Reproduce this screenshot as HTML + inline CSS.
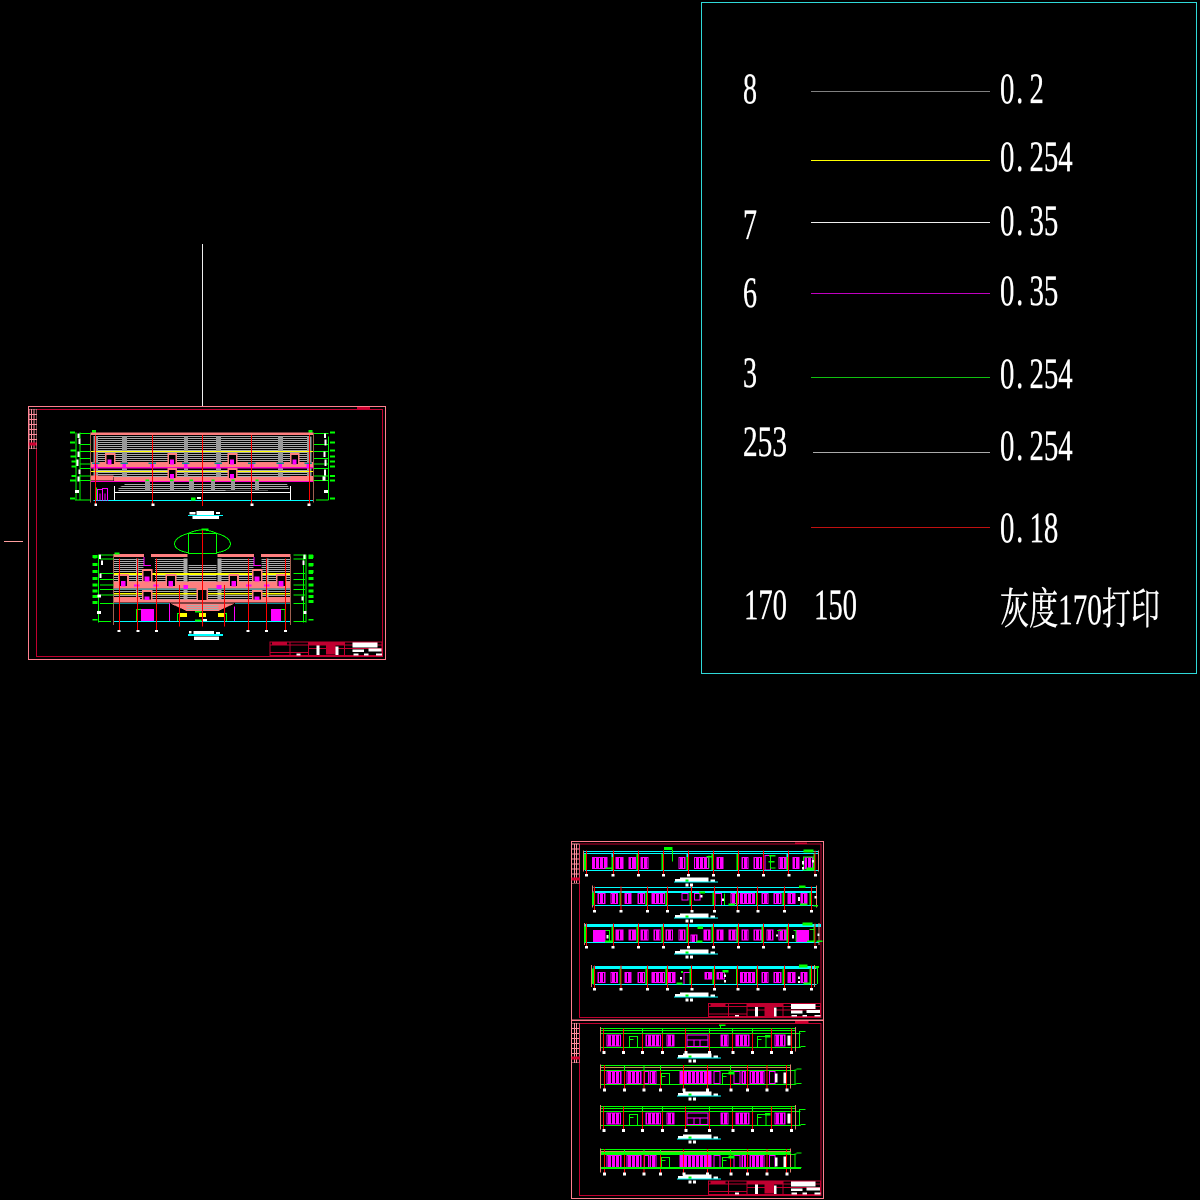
<!DOCTYPE html>
<html><head><meta charset="utf-8"><style>
html,body{margin:0;padding:0;background:#000}
svg{display:block}
text{font-family:"Liberation Serif","Noto Serif CJK SC",serif;fill:#fff;stroke:#fff;stroke-width:.35px;font-size:43px}
.z{shape-rendering:crispEdges}
</style></head><body>
<svg width="1200" height="1200" viewBox="0 0 1200 1200" xmlns="http://www.w3.org/2000/svg">
<defs>
<pattern id="h" width="6" height="6" patternUnits="userSpaceOnUse"><rect width="6" height="3" fill="#aaa"/></pattern>
<pattern id="w" width="12" height="30" patternUnits="userSpaceOnUse"><rect width="12" height="30" fill="#f0f"/><rect x="6" width="3" height="30" fill="#000"/></pattern>
<g id="strip"><rect x="0" y="0" width="23" height="118" fill="#000" stroke="#ff8f9f" stroke-width="2"/>
<path d="M8 0V118M15 0V118M0 15H23M0 30H23M0 45H23M0 60H23M0 75H23M0 90H23" stroke="#ff8f9f" stroke-width="3" fill="none"/>
<rect x="0" y="100" width="23" height="9" fill="#d00030"/></g>
<g id="tb" fill="none" stroke="#c00030" stroke-width="3">
<rect x="430" y="505" width="336" height="40"/><path d="M430 514H766M490 505V545M546 505V545M430 537H546M654 505V545M546 525H766"/>
<rect x="438" y="506" width="42" height="6" fill="#c00030"/>
<rect x="548" y="506" width="105" height="8" fill="#c00030"/><rect x="600" y="516" width="25" height="25" fill="#c00030"/>
<rect x="570" y="516" width="9" height="28" fill="#fff" stroke="none"/><rect x="627" y="518" width="8" height="26" fill="#fff" stroke="none"/>
<rect x="678" y="507" width="74" height="15" fill="#fff" stroke="none"/><rect x="678" y="527" width="34" height="8" fill="#fff" stroke="none"/>
<rect x="725" y="525" width="40" height="9" fill="#fff" stroke="none"/><rect x="680" y="540" width="16" height="5" fill="#fff" stroke="none"/><rect x="712" y="540" width="14" height="5" fill="#fff" stroke="none"/><rect x="748" y="540" width="18" height="5" fill="#fff" stroke="none"/><rect x="510" y="540" width="12" height="5" fill="#fff" stroke="none"/>
</g>
<g id="ttl"><rect x="345" y="-12" width="85" height="12" fill="#fff"/><rect x="330" y="-8" width="32" height="7" fill="#fff"/><rect x="437" y="-7" width="13" height="6" fill="#fff"/>
<rect x="327" y="0" width="132" height="3" fill="#0ff"/><rect x="362" y="6" width="9" height="9" fill="#fff"/><rect x="375" y="6" width="9" height="9" fill="#fff"/><rect x="362" y="-6" width="9" height="6" fill="#0f0"/></g>
</defs>
<rect width="1200" height="1200" fill="#000"/>

<!-- legend -->
<g class="z">
<rect x="701.5" y="2.5" width="495" height="671" fill="none" stroke="#2fd8d8"/>
<path d="M811 91.5H990" stroke="#808080"/><path d="M811 160.5H990" stroke="#ff0"/><path d="M811 222.5H990" stroke="#eee"/>
<path d="M811 293.5H990" stroke="#c000c0"/><path d="M811 377.5H990" stroke="#10c010"/><path d="M813 452.5H990" stroke="#aaa"/><path d="M811 527.5H990" stroke="#c01010"/>
<path d="M202.5 244V406" stroke="#eee"/><path d="M4 541.5H23" stroke="#ff9f9f"/>
</g>
<text x="743" y="103" textLength="14" lengthAdjust="spacingAndGlyphs">8</text>
<text x="743" y="239" textLength="14" lengthAdjust="spacingAndGlyphs">7</text>
<text x="743" y="307" textLength="14" lengthAdjust="spacingAndGlyphs">6</text>
<text x="743" y="387" textLength="14" lengthAdjust="spacingAndGlyphs">3</text>
<text x="743" y="456" textLength="44" lengthAdjust="spacingAndGlyphs">253</text>
<text x="744" y="619" textLength="43" lengthAdjust="spacingAndGlyphs">170</text>
<text x="814" y="619" textLength="43" lengthAdjust="spacingAndGlyphs">150</text>
<g>
<text transform="translate(1000,103) scale(.67,1)" x="0 24 44">0.2</text>
<text transform="translate(1000,171) scale(.67,1)" x="0 24 44 65.5 87">0.254</text>
<text transform="translate(1000,235) scale(.67,1)" x="0 24 44 65.5">0.35</text>
<text transform="translate(1000,305) scale(.67,1)" x="0 24 44 65.5">0.35</text>
<text transform="translate(1000,388) scale(.67,1)" x="0 24 44 65.5 87">0.254</text>
<text transform="translate(1000,460) scale(.67,1)" x="0 24 44 65.5 87">0.254</text>
<text transform="translate(1000,542) scale(.67,1)" x="0 24 44 65.5">0.18</text>
</g>
<text x="1000" y="624" textLength="160" lengthAdjust="spacingAndGlyphs">灰度170打印</text>

<!-- drawing 1 frame + upper elevation -->
<g transform="translate(20,400) scale(.33333)" class="z">
<rect x="25" y="19" width="1071" height="759" fill="none" stroke="#ff7f8f" stroke-width="3"/>
<rect x="49" y="28" width="1039" height="741" fill="none" stroke="#c00030" stroke-width="3"/>
<use href="#strip" x="27" y="28"/>
<rect x="1011" y="21" width="39" height="7" fill="#d00030"/>
<rect x="220" y="108" width="650" height="48" fill="url(#h)"/><rect x="220" y="207" width="650" height="24" fill="url(#h)"/>
<rect x="220" y="156" width="650" height="30" fill="url(#h)"/>
<rect x="306" y="110" width="15" height="120" fill="#999"/><rect x="492" y="110" width="12" height="120" fill="#999"/><rect x="588" y="110" width="15" height="120" fill="#999"/><rect x="774" y="110" width="15" height="120" fill="#999"/><rect x="220" y="110" width="14" height="120" fill="#999"/><rect x="861" y="110" width="14" height="120" fill="#999"/>
<rect x="212" y="153" width="668" height="3" fill="#ff0"/><rect x="212" y="213" width="668" height="3" fill="#ff0"/>
<rect x="210" y="98" width="670" height="7" fill="#ff7f7f"/>
<rect x="212" y="186" width="668" height="15" fill="#ff7f7f"/><rect x="212" y="201" width="668" height="4" fill="#f0c"/>
<rect x="282" y="231" width="600" height="12" fill="#ff7f7f"/><rect x="210" y="226" width="70" height="15" fill="#ff7f7f"/><rect x="812" y="228" width="70" height="14" fill="#ff7f7f"/>
<rect x="212" y="243" width="668" height="3" fill="#f0c"/>
<g fill="#000" stroke="#ff7f7f" stroke-width="5"><rect x="257" y="162" width="27" height="33"/><rect x="445" y="162" width="24" height="33"/><rect x="625" y="162" width="25" height="33"/><rect x="812" y="162" width="24" height="33"/><rect x="445" y="207" width="24" height="30"/><rect x="625" y="207" width="25" height="30"/></g>
<g fill="#f0f"><rect x="262" y="178" width="12" height="16"/><rect x="450" y="178" width="12" height="16"/><rect x="630" y="178" width="12" height="16"/><rect x="817" y="178" width="12" height="16"/><rect x="450" y="222" width="12" height="14"/><rect x="630" y="222" width="12" height="14"/><rect x="222" y="190" width="10" height="14"/><rect x="308" y="190" width="10" height="14"/><rect x="392" y="190" width="10" height="14"/><rect x="492" y="190" width="10" height="14"/><rect x="590" y="190" width="10" height="14"/><rect x="690" y="190" width="10" height="14"/><rect x="776" y="190" width="10" height="14"/><rect x="860" y="190" width="10" height="14"/></g>
<g fill="#0a8a90"><rect x="216" y="187" width="22" height="5"/><rect x="302" y="187" width="22" height="5"/><rect x="386" y="187" width="22" height="5"/><rect x="486" y="187" width="22" height="5"/><rect x="584" y="187" width="22" height="5"/><rect x="684" y="187" width="22" height="5"/><rect x="770" y="187" width="22" height="5"/><rect x="854" y="187" width="22" height="5"/></g>
<g fill="url(#h)"><polygon points="295,264 320,250 800,250 810,270 295,276"/></g>
<g fill="#999"><rect x="375" y="242" width="15" height="30"/><rect x="450" y="242" width="12" height="30"/><rect x="507" y="242" width="15" height="30"/><rect x="573" y="242" width="12" height="30"/><rect x="633" y="242" width="12" height="30"/><rect x="705" y="242" width="12" height="30"/></g>
<g fill="#0f0"><rect x="377" y="238" width="10" height="5"/><rect x="450" y="238" width="10" height="5"/><rect x="509" y="238" width="10" height="5"/><rect x="574" y="238" width="10" height="5"/><rect x="634" y="238" width="10" height="5"/><rect x="706" y="238" width="10" height="5"/></g>
<path d="M283 258V300M812 258V300" stroke="#fff" stroke-width="3"/><rect x="283" y="276" width="530" height="3" fill="#fff"/>
<rect x="220" y="300" width="660" height="3" fill="#0ff"/>
<g stroke="#f00" stroke-width="3"><path d="M226 105V315M397 105V315M547 105V318M694 105V315M868 105V315"/></g>
<path d="M211 98V308M880 98V308" stroke="#a06050" stroke-width="3"/>
<g fill="none" stroke="#f0f" stroke-width="3"><path d="M233 303V268H247M247 303V265H263V303M240 280V303M255 280V303"/></g>
<path d="M230 262V300" stroke="#0f0" stroke-width="3"/>
<!-- green sides -->
<g stroke="#0f0" stroke-width="3" fill="none">
<path d="M168 98V300M180 98V300M925 110V300"/>
<path d="M180 101H212M180 133H212M180 155H212M180 175H212M180 192H212M180 205H212M180 228H212M180 242H212M165 300H212M882 101H925M882 133H925M882 155H925M882 175H925M882 192H925M882 205H925M882 228H925M882 242H925M888 300H925"/>
<path stroke-width="6" d="M150 98H165M150 128H165M152 152H168M152 170H168M155 185H168M155 200H168M155 228H168M150 242H168M150 295H165M930 98H945M930 128H945M930 152H945M930 170H945M930 185H945M930 200H945M930 228H945M930 242H945M930 295H945"/>
</g>
<g fill="#fff"><rect x="172" y="100" width="6" height="14"/><rect x="176" y="116" width="6" height="16"/><rect x="172" y="155" width="6" height="16"/><rect x="170" y="178" width="6" height="20"/><rect x="176" y="208" width="6" height="14"/><rect x="172" y="230" width="6" height="14"/><rect x="165" y="270" width="12" height="9"/><rect x="912" y="100" width="6" height="14"/><rect x="914" y="118" width="6" height="18"/><rect x="910" y="155" width="6" height="16"/><rect x="914" y="178" width="6" height="20"/><rect x="912" y="208" width="6" height="18"/><rect x="908" y="230" width="8" height="12"/><rect x="912" y="270" width="12" height="9"/></g>
<rect x="216" y="90" width="12" height="8" fill="#0f0"/><rect x="866" y="90" width="12" height="8" fill="#0f0"/>
<g fill="#fff"><rect x="223" y="310" width="8" height="8"/><rect x="395" y="310" width="8" height="8"/><rect x="692" y="310" width="8" height="8"/><rect x="863" y="310" width="8" height="8"/><rect x="531" y="291" width="12" height="6"/></g>
<rect x="513" y="293" width="14" height="8" fill="#0f0"/>
<g fill="#fff"><rect x="530" y="333" width="52" height="12"/><rect x="588" y="336" width="12" height="6"/><rect x="508" y="336" width="18" height="8"/><rect x="517" y="348" width="80" height="9"/></g>
<rect x="504" y="345" width="105" height="3" fill="#0ff"/><rect x="545" y="385" width="20" height="5" fill="#0f0"/>
</g>

<!-- drawing 1 lower elevation -->
<g transform="translate(20,525) scale(.33333)" class="z">
<path d="M505 25H590V85H505Z" fill="none" stroke="#0f0" stroke-width="3"/>
<path d="M505 25C450 40 450 75 505 83M590 25C645 40 645 75 590 83M505 25Q547 5 590 25" fill="none" stroke="#0f0" stroke-width="3"/>
<rect x="282" y="100" width="88" height="70" fill="url(#h)"/><rect x="405" y="100" width="85" height="70" fill="url(#h)"/><rect x="605" y="100" width="95" height="70" fill="url(#h)"/><rect x="725" y="100" width="87" height="70" fill="url(#h)"/><rect x="505" y="118" width="85" height="52" fill="url(#h)"/>
<rect x="282" y="192" width="528" height="34" fill="url(#h)"/>
<rect x="490" y="100" width="13" height="125" fill="#aaa"/><rect x="592" y="100" width="13" height="125" fill="#aaa"/>
<rect x="348" y="100" width="7" height="125" fill="#aaa"/><rect x="738" y="100" width="7" height="125" fill="#aaa"/>
<g fill="#ff7f7f"><rect x="280" y="87" width="92" height="9"/><rect x="393" y="87" width="110" height="9"/><rect x="592" y="87" width="110" height="9"/><rect x="723" y="87" width="88" height="9"/><rect x="280" y="170" width="532" height="20"/><rect x="280" y="216" width="80" height="8"/><rect x="725" y="216" width="88" height="8"/><rect x="280" y="224" width="532" height="9"/><polygon points="450,235 645,235 595,258 500,258"/></g>
<rect x="280" y="144" width="532" height="6" fill="#ff0"/><rect x="280" y="204" width="532" height="4" fill="#ff0"/>
<rect x="280" y="234" width="170" height="3" fill="#0a8a90"/><rect x="645" y="234" width="167" height="3" fill="#0a8a90"/><rect x="280" y="190" width="532" height="3" fill="#0a8a90"/>
<rect x="500" y="240" width="95" height="18" fill="url(#h)"/>
<g fill="#000" stroke="#ff7f7f" stroke-width="5"><rect x="297" y="150" width="27" height="36"/><rect x="439" y="150" width="28" height="36"/><rect x="628" y="150" width="26" height="36"/><rect x="770" y="150" width="27" height="36"/><rect x="368" y="135" width="27" height="35"/><rect x="698" y="135" width="27" height="35"/><rect x="368" y="198" width="27" height="28"/><rect x="698" y="198" width="27" height="28"/><rect x="532" y="192" width="30" height="36"/></g>
<g fill="#f0f"><rect x="303" y="168" width="14" height="17"/><rect x="445" y="168" width="14" height="17"/><rect x="634" y="168" width="14" height="17"/><rect x="776" y="168" width="14" height="17"/><rect x="373" y="155" width="15" height="14"/><rect x="703" y="155" width="15" height="14"/><rect x="373" y="215" width="15" height="10"/><rect x="703" y="215" width="15" height="10"/><rect x="342" y="178" width="16" height="6"/><rect x="400" y="178" width="16" height="6"/><rect x="490" y="180" width="14" height="12"/><rect x="590" y="180" width="14" height="12"/><rect x="678" y="178" width="16" height="6"/><rect x="732" y="178" width="16" height="6"/></g>
<path d="M372 96V122H393M702 96V122H723" fill="none" stroke="#f0f" stroke-width="3"/>
<rect x="363" y="252" width="39" height="38" fill="#f0f"/><rect x="753" y="252" width="30" height="38" fill="#f0f"/>
<path d="M448 236V288M644 244V288" stroke="#f0f" stroke-width="3"/>
<path d="M349 290V254H363M795 290V254H783M472 290V266H480M620 290V266H612" fill="none" stroke="#0f0" stroke-width="3"/>
<g fill="#ff0"><rect x="478" y="264" width="23" height="12"/><rect x="537" y="264" width="21" height="12"/><rect x="594" y="264" width="18" height="12"/></g>
<rect x="280" y="288" width="532" height="3" fill="#0ff"/>
<rect x="525" y="258" width="20" height="4" fill="#0f0"/><rect x="525" y="284" width="20" height="5" fill="#0f0"/><rect x="549" y="282" width="12" height="6" fill="#fff"/>
<g stroke="#f00" stroke-width="3"><path d="M298 100V315M352 100V315M409 100V315M478 180V305M547 15V305M613 180V305M685 100V315M739 100V315M796 100V315"/></g>
<path d="M280 95V300M811 95V300" stroke="#a06050" stroke-width="3"/>
<g stroke="#0f0" stroke-width="3" fill="none"><path d="M235 88V292M858 88V292M851 88V292"/>
<path d="M240 90H280M240 102H280M240 146H280M240 163H280M240 180H280M240 193H280M240 210H280M240 235H280M235 290H273M820 90H855M820 102H855M820 146H855M820 163H855M820 180H855M820 193H855M820 210H855M820 235H855M820 290H860"/>
<path stroke-width="9" d="M218 95H232M218 118H232M218 140H232M218 160H232M218 180H232M218 198H232M218 215H232M218 232H232M866 95H880M866 118H880M866 140H880M866 160H880M866 180H880M866 198H880M866 215H880M866 230H880"/></g>
<g fill="#0f0"><rect x="866" y="88" width="13" height="14"/><rect x="866" y="114" width="13" height="10"/><rect x="866" y="135" width="13" height="12"/><rect x="283" y="82" width="16" height="6"/><rect x="220" y="90" width="10" height="10"/><rect x="218" y="282" width="14" height="4"/><rect x="866" y="282" width="14" height="4"/></g>
<g fill="#fff"><rect x="237" y="88" width="6" height="14"/><rect x="243" y="106" width="6" height="14"/><rect x="238" y="145" width="6" height="14"/><rect x="233" y="208" width="10" height="10"/><rect x="231" y="258" width="12" height="9"/><rect x="850" y="88" width="6" height="14"/><rect x="848" y="106" width="6" height="14"/><rect x="845" y="215" width="6" height="12"/><rect x="850" y="258" width="10" height="9"/><rect x="292" y="315" width="9" height="6"/><rect x="349" y="315" width="9" height="6"/><rect x="405" y="315" width="9" height="6"/><rect x="680" y="315" width="9" height="6"/><rect x="735" y="315" width="9" height="6"/><rect x="792" y="315" width="9" height="6"/><rect x="520" y="318" width="62" height="10"/><rect x="588" y="321" width="12" height="6"/><rect x="507" y="318" width="8" height="8"/><rect x="522" y="335" width="75" height="10"/></g>
<rect x="504" y="327" width="105" height="6" fill="#0ff"/>
<use href="#tb" x="320" y="-154"/>
</g>

<!-- sheet 2: upper -->
<g transform="translate(565,835) scale(.33333)" class="z">
<rect x="19" y="19" width="757" height="536" fill="none" stroke="#ff7f8f" stroke-width="3"/>
<rect x="43" y="27" width="725" height="521" fill="none" stroke="#c00030" stroke-width="3"/>
<use href="#strip" x="20" y="27"/><rect x="690" y="22" width="36" height="5" fill="#d00030"/>
<!-- row 1 -->
<g fill="url(#w)" stroke="#f0f" stroke-width="3"><rect x="82" y="67" width="44" height="33"/><rect x="153" y="67" width="21" height="33"/><rect x="192" y="67" width="20" height="33"/><rect x="228" y="67" width="21" height="33"/><rect x="342" y="67" width="18" height="33"/><rect x="388" y="67" width="42" height="33"/><rect x="456" y="67" width="18" height="33"/><rect x="531" y="67" width="18" height="33"/><rect x="567" y="67" width="22" height="33"/><rect x="642" y="67" width="22" height="33"/><rect x="684" y="67" width="18" height="33"/><rect x="720" y="67" width="22" height="33"/></g>
<path d="M600 62H617V105H600Z" fill="none" stroke="#f0f" stroke-width="3"/>
<rect x="55" y="48" width="705" height="3" fill="#0ff"/><rect x="55" y="54" width="705" height="3" fill="#0ff"/><rect x="60" y="105" width="700" height="3" fill="#0ff"/>
<path d="M55 46V110M761 46V110" stroke="#e08070" stroke-width="3"/>
<g stroke="#0f0" stroke-width="6"><path d="M60 57V105M142 57V105M218 57V105M293 57V105M368 57V105M443 57V105M518 57V105M668 57V105M748 57V105"/></g>
<g stroke="#0ff" stroke-width="6"><path d="M142 54V66M368 54V66M668 54V66"/></g>
<g stroke="#f00" stroke-width="3"><path d="M65 46V118M145 46V118M220 46V118M295 46V118M370 46V118M445 46V118M520 46V118M595 46V118M670 46V118M750 46V118"/></g>
<g fill="#fff"><rect x="60" y="117" width="9" height="8"/><rect x="140" y="117" width="9" height="8"/><rect x="216" y="117" width="9" height="8"/><rect x="291" y="117" width="9" height="8"/><rect x="366" y="117" width="9" height="8"/><rect x="441" y="117" width="9" height="8"/><rect x="516" y="117" width="9" height="8"/><rect x="591" y="117" width="9" height="8"/><rect x="668" y="117" width="9" height="8"/><rect x="747" y="117" width="9" height="8"/></g>
<rect x="297" y="36" width="26" height="9" fill="#0f0"/><path d="M322 45V80M432 62V100M617 62V100" stroke="#0f0" stroke-width="3"/>
<g fill="#0f0"><rect x="424" y="63" width="20" height="5"/><rect x="612" y="60" width="20" height="4"/><rect x="610" y="78" width="18" height="4"/><rect x="616" y="97" width="16" height="4"/><rect x="122" y="97" width="18" height="5"/><rect x="716" y="44" width="30" height="8"/><rect x="725" y="97" width="20" height="8"/></g>
<path d="M715 66H745V105H715Z" fill="none" stroke="#0f0" stroke-width="3"/>
<rect x="711" y="78" width="6" height="10" fill="#fff"/><rect x="711" y="96" width="6" height="8" fill="#fff"/><rect x="741" y="75" width="6" height="8" fill="#fff"/>
<use href="#ttl" y="140"/>
<!-- row 2 -->
<g fill="url(#w)" stroke="#f0f" stroke-width="3"><rect x="99" y="175" width="21" height="30"/><rect x="138" y="175" width="19" height="30"/><rect x="180" y="175" width="18" height="30"/><rect x="219" y="175" width="19" height="30"/><rect x="261" y="175" width="37" height="30"/><rect x="498" y="175" width="22" height="30"/><rect x="527" y="175" width="41" height="30"/><rect x="591" y="175" width="18" height="30"/><rect x="627" y="175" width="21" height="30"/><rect x="669" y="175" width="21" height="30"/><rect x="708" y="175" width="18" height="30"/></g>
<g fill="none" stroke="#f0f" stroke-width="3"><rect x="351" y="175" width="18" height="20"/><rect x="388" y="175" width="17" height="20"/><rect x="450" y="175" width="20" height="36"/></g>
<rect x="85" y="156" width="670" height="3" fill="#0ff"/><rect x="85" y="168" width="670" height="6" fill="#0ff"/><rect x="85" y="210" width="670" height="3" fill="#0ff"/>
<path d="M82 152V218M755 152V218" stroke="#e08070" stroke-width="3"/>
<g stroke="#0f0" stroke-width="6"><path d="M84 172V210M166 172V210M245 172V210M304 172V210M376 172V210M445 172V210M516 172V210M576 172V210M656 172V210M737 172V210"/></g><path d="M478 175V210" stroke="#0f0" stroke-width="3"/>
<g stroke="#f00" stroke-width="3"><path d="M88 155V226M168 155V226M247 155V226M307 155V226M380 155V226M448 155V226M518 155V226M578 155V226M658 155V226M740 155V226"/></g>
<g fill="#fff"><rect x="84" y="225" width="9" height="8"/><rect x="164" y="225" width="9" height="8"/><rect x="243" y="225" width="9" height="8"/><rect x="303" y="225" width="9" height="8"/><rect x="376" y="225" width="9" height="8"/><rect x="444" y="225" width="9" height="8"/><rect x="514" y="225" width="9" height="8"/><rect x="574" y="225" width="9" height="8"/><rect x="654" y="225" width="9" height="8"/><rect x="735" y="225" width="9" height="8"/></g>
<g fill="#0f0"><rect x="402" y="170" width="18" height="5"/><rect x="490" y="206" width="20" height="5"/><rect x="702" y="152" width="20" height="7"/><rect x="705" y="205" width="22" height="6"/><rect x="745" y="210" width="14" height="5"/></g>
<rect x="699" y="186" width="6" height="12" fill="#fff"/><rect x="471" y="190" width="6" height="8" fill="#fff"/><rect x="407" y="180" width="6" height="8" fill="#fff"/><rect x="749" y="183" width="6" height="8" fill="#fff"/>
<use href="#ttl" y="248"/>
<!-- row 3 -->
<rect x="84" y="285" width="38" height="38" fill="#f0f"/><rect x="693" y="285" width="39" height="38" fill="#f0f"/>
<g fill="url(#w)" stroke="#f0f" stroke-width="3"><rect x="153" y="285" width="21" height="30"/><rect x="192" y="285" width="20" height="30"/><rect x="228" y="285" width="21" height="30"/><rect x="267" y="285" width="18" height="30"/><rect x="303" y="285" width="20" height="30"/><rect x="342" y="285" width="18" height="30"/><rect x="378" y="300" width="18" height="22"/><rect x="417" y="285" width="18" height="30"/><rect x="456" y="285" width="18" height="30"/><rect x="492" y="285" width="21" height="30"/><rect x="531" y="285" width="18" height="30"/><rect x="567" y="285" width="22" height="30"/><rect x="606" y="285" width="18" height="30"/><rect x="642" y="285" width="22" height="30"/></g>
<rect x="58" y="267" width="710" height="9" fill="#0ff"/><rect x="60" y="321" width="700" height="3" fill="#0ff"/>
<path d="M58 264V330M762 264V330" stroke="#e08070" stroke-width="3"/>
<g stroke="#0f0" stroke-width="6"><path d="M60 275V322M142 275V322M218 275V322M293 275V322M368 275V322M443 275V322M518 275V322M593 275V322M668 275V322M748 275V322"/></g>
<path d="M122 286H134V320M636 286H650M686 286H693V320M733 283H750" fill="none" stroke="#0f0" stroke-width="3"/>
<g stroke="#f00" stroke-width="3"><path d="M65 265V334M145 265V334M220 265V334M295 265V334M370 265V334M445 265V334M520 265V334M595 265V334M670 265V334M750 265V334"/></g>
<g fill="#fff"><rect x="60" y="333" width="9" height="8"/><rect x="140" y="333" width="9" height="8"/><rect x="216" y="333" width="9" height="8"/><rect x="291" y="333" width="9" height="8"/><rect x="366" y="333" width="9" height="8"/><rect x="441" y="333" width="9" height="8"/><rect x="516" y="333" width="9" height="8"/><rect x="591" y="333" width="9" height="8"/><rect x="668" y="333" width="9" height="8"/><rect x="747" y="333" width="9" height="8"/><rect x="125" y="300" width="6" height="10"/><rect x="633" y="298" width="6" height="6"/><rect x="681" y="300" width="6" height="10"/><rect x="758" y="295" width="6" height="8"/></g>
<g fill="#0f0"><rect x="398" y="275" width="16" height="7"/><rect x="395" y="316" width="18" height="6"/><rect x="120" y="317" width="20" height="6"/><rect x="712" y="262" width="30" height="9"/><rect x="726" y="316" width="22" height="5"/><rect x="755" y="316" width="18" height="5"/></g>
<use href="#ttl" y="356"/>
<!-- row 4 -->
<g fill="url(#w)" stroke="#f0f" stroke-width="3"><rect x="99" y="412" width="21" height="30"/><rect x="138" y="412" width="19" height="30"/><rect x="180" y="412" width="18" height="30"/><rect x="219" y="412" width="19" height="30"/><rect x="261" y="412" width="37" height="30"/><rect x="308" y="412" width="22" height="30"/><rect x="420" y="412" width="20" height="20"/><rect x="456" y="412" width="22" height="20"/><rect x="527" y="412" width="41" height="30"/><rect x="591" y="412" width="18" height="30"/><rect x="627" y="412" width="21" height="30"/><rect x="669" y="412" width="21" height="30"/><rect x="708" y="412" width="18" height="30"/></g>
<rect x="357" y="412" width="21" height="36" fill="none" stroke="#f0f" stroke-width="3"/>
<rect x="85" y="393" width="670" height="9" fill="#0ff"/><rect x="85" y="447" width="670" height="3" fill="#0ff"/>
<path d="M80 390V456M748 390V456" stroke="#e08070" stroke-width="3"/>
<g stroke="#0f0" stroke-width="6"><path d="M84 400V447M166 400V447M245 400V447M304 400V447M376 400V447M445 400V447M516 400V447M576 400V447M656 400V447M737 400V447"/></g><path d="M757 395V447" stroke="#0f0" stroke-width="3"/>
<g stroke="#f00" stroke-width="3"><path d="M88 392V460M168 392V460M247 392V460M307 392V460M380 392V460M448 392V460M518 392V460M578 392V460M658 392V460M740 392V460"/></g>
<g fill="#fff"><rect x="84" y="459" width="9" height="8"/><rect x="164" y="459" width="9" height="8"/><rect x="243" y="459" width="9" height="8"/><rect x="303" y="459" width="9" height="8"/><rect x="376" y="459" width="9" height="8"/><rect x="444" y="459" width="9" height="8"/><rect x="514" y="459" width="9" height="8"/><rect x="574" y="459" width="9" height="8"/><rect x="654" y="459" width="9" height="8"/><rect x="735" y="459" width="9" height="8"/><rect x="477" y="418" width="6" height="8"/><rect x="477" y="435" width="6" height="8"/><rect x="699" y="424" width="6" height="8"/><rect x="699" y="438" width="6" height="6"/><rect x="345" y="426" width="6" height="8"/></g>
<g fill="#0f0"><rect x="702" y="388" width="26" height="9"/><rect x="715" y="443" width="18" height="6"/><rect x="472" y="405" width="18" height="7"/><rect x="335" y="443" width="18" height="6"/><rect x="348" y="408" width="6" height="6"/><rect x="750" y="393" width="12" height="6"/></g>
<use href="#ttl" y="485"/>
<use href="#tb"/>
</g>

<!-- sheet 2: lower -->
<g transform="translate(565,1015) scale(.33333)" class="z">
<rect x="19" y="16" width="757" height="534" fill="none" stroke="#ff7f8f" stroke-width="3"/>
<rect x="43" y="25" width="725" height="517" fill="none" stroke="#c00030" stroke-width="3"/>
<use href="#strip" x="20" y="25"/><rect x="690" y="18" width="40" height="7" fill="#d00030"/>
<g id="r1">
<g fill="url(#w)" stroke="#f0f" stroke-width="3"><rect x="126" y="60" width="40" height="33"/><rect x="243" y="60" width="43" height="33"/><rect x="306" y="60" width="21" height="33"/><rect x="468" y="60" width="21" height="33"/><rect x="513" y="60" width="39" height="33"/><rect x="630" y="60" width="30" height="33"/></g>
<g fill="none" stroke="#f0f" stroke-width="3"><rect x="366" y="60" width="63" height="35"/><path d="M366 75H429M387 75V95M405 75V95"/></g>
<path d="M193 96V65H217V96M577 96V65H603V96M193 74H205M577 74H590" fill="none" stroke="#0f0" stroke-width="3"/>
<rect x="107" y="39" width="585" height="3" fill="#0f0"/><rect x="107" y="45" width="585" height="3" fill="#0f0"/><rect x="107" y="54" width="600" height="3" fill="#0f0"/><rect x="107" y="96" width="600" height="3" fill="#0f0"/>
<path d="M106 36V110M691 36V110" stroke="#e08070" stroke-width="3"/>
<g stroke="#0f0" stroke-width="3"><path d="M115 39V55M175 39V55M232 39V97M292 39V97M362 39V97M433 39V97M503 39V97M562 39V55M620 39V97M680 39V97"/></g>
<g stroke="#f00" stroke-width="3"><path d="M115 40V108M175 40V108M232 55V108M292 55V108M362 40V108M433 55V108M503 55V108M562 55V108M620 40V108M680 40V108"/></g>
<g fill="#fff"><rect x="112" y="108" width="9" height="9"/><rect x="171" y="108" width="9" height="9"/><rect x="228" y="108" width="9" height="9"/><rect x="288" y="108" width="9" height="9"/><rect x="358" y="108" width="9" height="9"/><rect x="429" y="108" width="9" height="9"/><rect x="499" y="108" width="9" height="9"/><rect x="558" y="108" width="9" height="9"/><rect x="615" y="108" width="9" height="9"/><rect x="675" y="108" width="9" height="9"/><rect x="668" y="62" width="8" height="30"/></g>
<path d="M708 50H703V96H708M708 50H722M708 94H722" fill="none" stroke="#0f0" stroke-width="3"/>
<rect x="600" y="60" width="16" height="8" fill="#0f0"/>
</g>
<rect x="462" y="29" width="20" height="4" fill="#0f0"/><path d="M466 30V40" stroke="#0f0" stroke-width="3"/>
<use href="#ttl" x="9" y="128"/>
<use href="#r1" y="234"/>
<g id="r2">
<g fill="url(#w)" stroke="#f0f" stroke-width="3"><rect x="126" y="170" width="42" height="35"/><rect x="186" y="170" width="42" height="35"/><rect x="255" y="170" width="18" height="35"/><rect x="345" y="170" width="93" height="35"/><rect x="531" y="170" width="10" height="35"/><rect x="555" y="170" width="42" height="35"/></g>
<g fill="none" stroke="#f0f" stroke-width="3"><rect x="238" y="170" width="12" height="36"/><rect x="447" y="170" width="18" height="36"/><rect x="507" y="170" width="18" height="36"/><rect x="613" y="170" width="17" height="36"/></g>
<path d="M289 207V175H314V207M472 207V175H497V207M289 184H301M472 184H484" fill="none" stroke="#0f0" stroke-width="3"/>
<rect x="107" y="150" width="570" height="3" fill="#0f0"/><rect x="107" y="156" width="570" height="3" fill="#c0a050"/><rect x="107" y="165" width="585" height="3" fill="#0f0"/><rect x="107" y="207" width="585" height="3" fill="#0f0"/>
<path d="M106 148V220M677 148V220" stroke="#e08070" stroke-width="3"/>
<g stroke="#0f0" stroke-width="3"><path d="M118 150V166M178 150V166M237 150V166M286 150V207M497 150V207M547 150V166M606 150V166M665 150V166"/></g>
<g stroke="#f00" stroke-width="3"><path d="M118 150V220M178 166V220M237 166V220M286 166V220M356 150V220M427 150V220M497 166V220M547 150V220M606 150V220M665 150V220"/></g>
<g fill="#fff"><rect x="114" y="220" width="9" height="9"/><rect x="174" y="220" width="9" height="9"/><rect x="233" y="220" width="9" height="9"/><rect x="282" y="220" width="9" height="9"/><rect x="352" y="220" width="9" height="9"/><rect x="423" y="220" width="9" height="9"/><rect x="493" y="220" width="9" height="9"/><rect x="543" y="220" width="9" height="9"/><rect x="602" y="220" width="9" height="9"/><rect x="661" y="220" width="9" height="9"/><rect x="630" y="175" width="7" height="28"/><rect x="656" y="172" width="7" height="34"/></g>
<path d="M695 165H690V207H695M695 162H710M695 205H710" fill="none" stroke="#0f0" stroke-width="3"/>
<rect x="490" y="170" width="18" height="8" fill="#0f0"/>
</g>
<use href="#ttl" x="9" y="242"/>
<use href="#r2" y="252"/>
<rect x="108" y="456" width="600" height="6" fill="#0f0"/><rect x="108" y="411" width="570" height="6" fill="#0f0"/>
<use href="#ttl" x="9" y="371"/>
<use href="#ttl" x="9" y="491"/>
<use href="#tb" y="-7"/>
</g>
</svg>
</body></html>
